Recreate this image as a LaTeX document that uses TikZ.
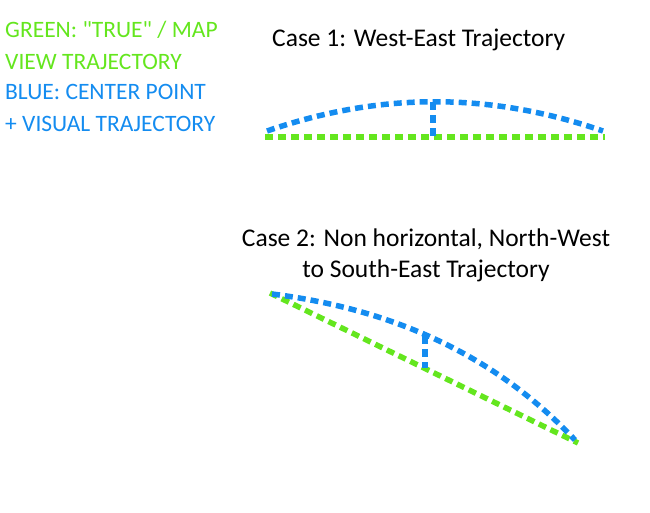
\documentclass[tikz,border=0pt]{standalone}
\usepackage{fontspec}
\setmainfont{Carlito}
\definecolor{trugreen}{RGB}{100,230,30}
\definecolor{visblue}{RGB}{20,140,240}
\begin{document}
\begin{tikzpicture}[line cap=butt,line join=round,x=1pt,y=-1pt,
  traj/.style={line width=5.5pt,dash pattern=on 8pt off 5pt},
  lbl/.style={anchor=west,inner sep=0pt,font=\fontsize{23.5}{31}\selectfont},
  cas/.style={inner sep=0pt,font=\fontsize{25.5}{31}\selectfont}]
	\useasboundingbox (0,0) rectangle (650,512);
	% legend
	\node[lbl,text=trugreen] (g1) at (5,30) {GREEN: \textquotedbl TRUE\textquotedbl{} / MAP};
	\node[lbl,text=trugreen] (g2) at (5,62) {VIEW TRAJECTORY};
	\node[lbl,text=visblue] (b1) at (5,92) {BLUE: CENTER POINT};
	\node[lbl,text=visblue] (b2) at (5,124) {+ VISUAL TRAJECTORY};
	% case 1
	\node[cas,anchor=west] (c1) at (272,40) {Case 1: West-East Trajectory};
	\draw [traj,trugreen] (265,137)-- (605,137);
	\draw [traj,visblue] (267,131) .. controls (380,92) and (490,92) .. (603,131);
	\draw [traj,visblue] (433,102)-- (433,136);
	% case 2
	\node[cas,align=center] (c2) at (426,255) {Case 2: Non horizontal, North-West\\to South-East Trajectory};
	\draw [traj,trugreen] (270,293)-- (578,443);
	\draw [traj,visblue] (272,294) .. controls (400,310) and (500,360) .. (575,440);
	\draw [traj,visblue] (425,336)-- (425,368);
\end{tikzpicture}
\end{document}
